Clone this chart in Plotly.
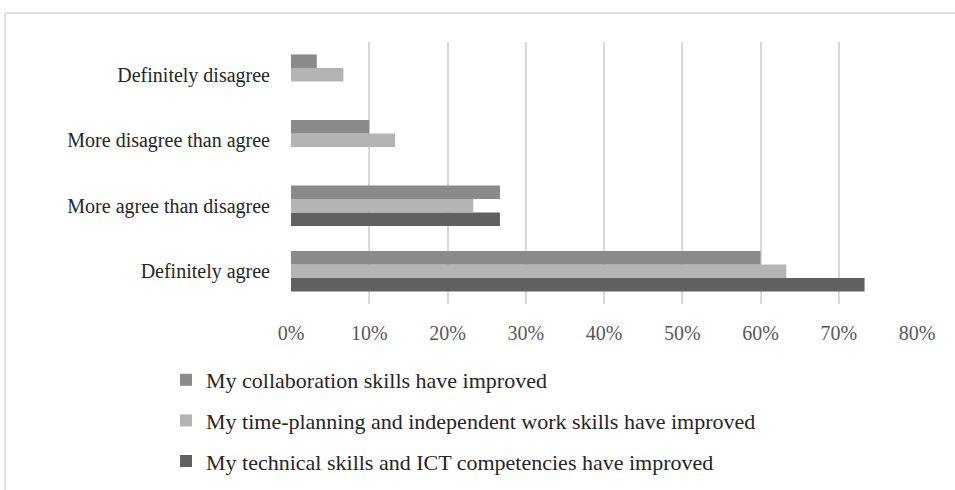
import plotly.graph_objects as go

categories = ["Definitely agree", "More agree than disagree",
              "More disagree than agree", "Definitely disagree"]
collab = [60.0, 26.7, 10.0, 3.3]
timeplan = [63.3, 23.3, 13.3, 6.7]
technical = [73.3, 26.7, 0.0, 0.0]

series_names = [
    "My collaboration skills have improved",
    "My time-planning and independent work skills have improved",
    "My technical skills and ICT competencies have improved",
]
colors = ["#8a8a8a", "#b4b4b4", "#606060"]

fig = go.Figure()
# added bottom-to-top within each group
for name, vals, col, grp, rank in [
    (series_names[2], technical, colors[2], "c", 3),
    (series_names[1], timeplan, colors[1], "b", 2),
    (series_names[0], collab, colors[0], "a", 1),
]:
    fig.add_trace(go.Bar(
        y=categories, x=vals, name=name, orientation="h",
        marker=dict(color=col, line=dict(width=0)),
        legendgroup=grp, legendrank=rank,
    ))

W, H = 955, 490
L, R, T, B = 291, 38, 42, 186
pw, ph = W - L - R, H - T - B

fig.update_layout(
    width=W, height=H,
    margin=dict(l=L, r=R, t=T, b=B, pad=0, autoexpand=False),
    paper_bgcolor="white", plot_bgcolor="white",
    barmode="group", bargap=0.38, bargroupgap=0,
    font=dict(family="Liberation Serif, Times New Roman, serif", size=20, color="#404040"),
    showlegend=True,
    legend=dict(
        orientation="v", traceorder="grouped",
        x=(166 - L) / pw, xanchor="left",
        y=-(359 - (T + ph)) / ph, yanchor="top",
        font=dict(size=22, color="#262626"),
        tracegroupgap=9, itemwidth=30,
        bgcolor="rgba(0,0,0,0)",
    ),
    xaxis=dict(
        range=[0, 80], dtick=10, ticksuffix="%",
        showgrid=True, gridcolor="#d9d9d9", gridwidth=1.5,
        zeroline=False, showline=False, ticks="",
        ticklabelstandoff=15, tickfont=dict(size=20, color="#595959"),
        fixedrange=True,
    ),
    yaxis=dict(
        categoryorder="array", categoryarray=categories,
        showgrid=False, zeroline=False, showline=False, ticks="",
        ticklabelstandoff=20, tickfont=dict(size=20, color="#262626"),
        fixedrange=True,
    ),
    shapes=[dict(
        type="rect", xref="paper", yref="paper",
        x0=(5 - L) / pw, x1=2.0,
        y0=-2.0, y1=(T + ph - 13) / ph,
        line=dict(color="#d9d9d9", width=1.5), layer="below",
    )],
)

fig.write_html("out.html")
